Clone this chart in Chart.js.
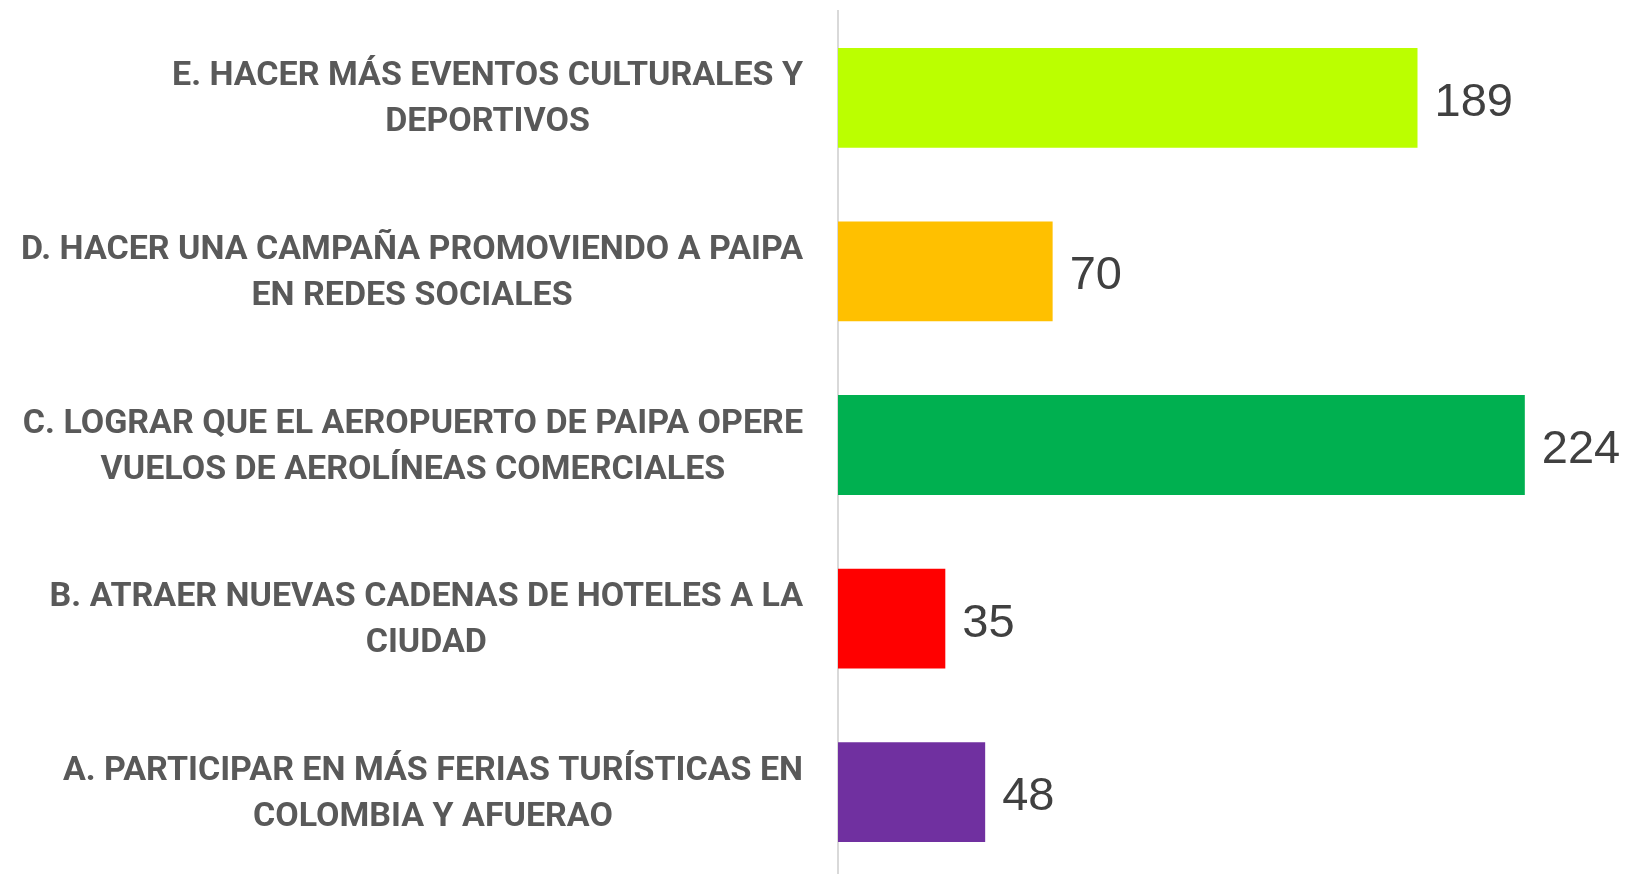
<!DOCTYPE html>
<html>
<head>
<meta charset="utf-8">
<script src="https://cdn.jsdelivr.net/npm/chart.js@4/dist/chart.umd.min.js"></script>
<style>
  html, body { margin: 0; padding: 0; background: #ffffff; overflow: hidden; }
  #wrap { position: relative; width: 1626px; height: 879px; }
</style>
</head>
<body>
<div id="wrap"><canvas id="c"></canvas></div>
<script>
// Categories (top to bottom), each split into its display lines
const categories = [
  ["E. HACER MÁS EVENTOS CULTURALES Y", "DEPORTIVOS"],
  ["D. HACER UNA CAMPAÑA PROMOVIENDO A PAIPA", "EN REDES SOCIALES"],
  ["C. LOGRAR QUE EL AEROPUERTO DE PAIPA OPERE", "VUELOS DE AEROLÍNEAS COMERCIALES"],
  ["B. ATRAER NUEVAS CADENAS DE HOTELES A LA", "CIUDAD"],
  ["A. PARTICIPAR EN MÁS FERIAS TURÍSTICAS EN", "COLOMBIA Y AFUERAO"]
];
const values = [189, 70, 224, 35, 48];
const barColors = ["#BBFF00", "#FFC000", "#00B050", "#FF0000", "#7030A0"];

const LABEL_FONT = "bold 34px Roboto, 'Liberation Sans', sans-serif";
const LABEL_LINE_H = 46;
const LABEL_GAP = 35;
const VALUE_FONT = "47px 'Liberation Sans', Arial, sans-serif";

const categoryLabelsPlugin = {
  id: 'categoryLabels',
  afterDraw(chart) {
    const ctx = chart.ctx;
    const y = chart.scales.y;
    const right = chart.chartArea.left - LABEL_GAP;
    ctx.save();
    ctx.font = LABEL_FONT;
    ctx.fillStyle = '#595959';
    ctx.textAlign = 'center';
    ctx.textBaseline = 'middle';
    chart.data.labels.forEach((lines, i) => {
      const arr = Array.isArray(lines) ? lines : [lines];
      const w = Math.max(...arr.map(l => ctx.measureText(l).width));
      const cx = right - w / 2;
      const cy = y.getPixelForValue(i) + 2;
      arr.forEach((l, j) => {
        ctx.fillText(l, cx, cy + (j - (arr.length - 1) / 2) * LABEL_LINE_H);
      });
    });
    ctx.restore();
  }
};

const valueLabelsPlugin = {
  id: 'valueLabels',
  afterDatasetsDraw(chart) {
    const ctx = chart.ctx;
    ctx.save();
    ctx.font = VALUE_FONT;
    ctx.fillStyle = '#404040';
    ctx.textAlign = 'left';
    ctx.textBaseline = 'middle';
    chart.data.datasets.forEach((ds, di) => {
      chart.getDatasetMeta(di).data.forEach((bar, i) => {
        ctx.fillText(String(ds.data[i]), bar.x + 17, bar.y + 5);
      });
    });
    ctx.restore();
  }
};

new Chart(document.getElementById('c'), {
  type: 'bar',
  data: {
    labels: categories,
    datasets: [{
      data: values,
      backgroundColor: barColors,
      borderWidth: 0,
      categoryPercentage: 1.0,
      barPercentage: 0.575
    }]
  },
  options: {
    indexAxis: 'y',
    responsive: true,
    maintainAspectRatio: false,
    animation: false,
    layout: { padding: { top: 11, right: 0, bottom: 0, left: 0 } },
    plugins: { legend: { display: false }, tooltip: { enabled: false } },
    scales: {
      x: {
        display: false,
        min: 0,
        max: 257
      },
      y: {
        grid: { display: false },
        border: { display: true, color: '#D9D9D9', width: 2 },
        ticks: { display: false },
        afterFit(scale) { scale.width = 838; }
      }
    }
  },
  plugins: [categoryLabelsPlugin, valueLabelsPlugin]
});
</script>
</body>
</html>
